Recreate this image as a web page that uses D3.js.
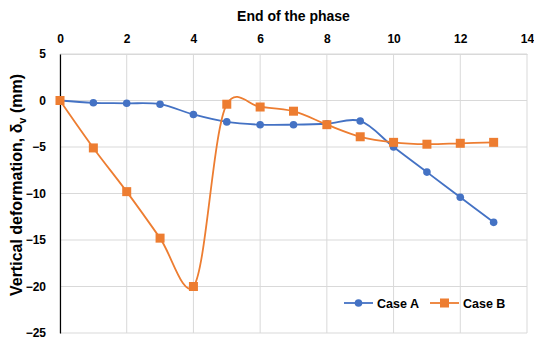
<!DOCTYPE html>
<html>
<head>
<meta charset="utf-8">
<script src="https://cdn.jsdelivr.net/npm/d3@7"></script>
<style>
  body { margin: 0; background: #fff; }
  text { font-family: "Liberation Sans", Arial, sans-serif; font-weight: bold; fill: #000; }
</style>
</head>
<body>
<svg width="534" height="341"></svg>
<script>
// phase index and deformations
const phases = [0, 1, 2, 3, 4, 5, 6, 7, 8, 9, 10, 11, 12, 13];
const caseA = [0, -0.25, -0.3, -0.4, -1.5, -2.3, -2.6, -2.6, -2.5, -2.2, -5.0, -7.7, -10.4, -13.1];
const caseB = [0, -5.1, -9.8, -14.8, -20.0, -0.4, -0.7, -1.15, -2.6, -3.9, -4.5, -4.7, -4.6, -4.5];
const xTicks = [0, 2, 4, 6, 8, 10, 12, 14];
const yTicks = [5, 0, -5, -10, -15, -20, -25];

const BLUE = "#4472C4", ORANGE = "#ED7D31";

const svg = d3.select("svg");
const x = d3.scaleLinear().domain([0, 14]).range([60, 527]);
const y = d3.scaleLinear().domain([-25, 5]).range([333, 54]);

// grid
const grid = svg.append("g");
grid.selectAll(".vg").data(xTicks).enter().append("line")
  .attr("x1", d => x(d)).attr("x2", d => x(d))
  .attr("y1", y(5)).attr("y2", y(-25))
  .attr("stroke", "#d9d9d9").attr("stroke-width", 1);
grid.selectAll(".hg").data(yTicks).enter().append("line")
  .attr("x1", x(0)).attr("x2", x(14))
  .attr("y1", d => y(d)).attr("y2", d => y(d))
  .attr("stroke", "#d9d9d9").attr("stroke-width", 1);

// axes
const xAxis = svg.append("g")
  .attr("transform", `translate(0,${y(5)})`)
  .call(d3.axisTop(x).tickValues(xTicks).tickSize(0).tickPadding(11));
xAxis.select(".domain").attr("stroke", "#d9d9d9");
xAxis.selectAll("text").style("font-size", "12px").style("font-weight", "bold")
  .style("font-family", "Liberation Sans, Arial, sans-serif").attr("fill", "#000");

const yAxis = svg.append("g")
  .attr("transform", `translate(${x(0)},0)`)
  .call(d3.axisLeft(y).tickValues(yTicks).tickSize(0).tickPadding(14));
yAxis.select(".domain").attr("stroke", "#000").attr("stroke-width", 1.2);
yAxis.selectAll("text").style("font-size", "12px").style("font-weight", "bold")
  .style("font-family", "Liberation Sans, Arial, sans-serif").attr("fill", "#000");

// titles
svg.append("text").attr("x", (x(0) + x(14)) / 2).attr("y", 21)
  .attr("text-anchor", "middle").style("font-size", "14px")
  .text("End of the phase");

const yt = svg.append("text")
  .attr("transform", `translate(22,185) rotate(-90)`)
  .attr("text-anchor", "middle").style("font-size", "16px");
yt.append("tspan").text("Vertical deformation, δ");
yt.append("tspan").attr("dy", 4).style("font-size", "11px").text("v");
yt.append("tspan").attr("dy", -4).text(" (mm)");

// series
const series = [
  { name: "Case A", values: caseA, color: BLUE, marker: "circle" },
  { name: "Case B", values: caseB, color: ORANGE, marker: "square" }
];

const line = d3.line()
  .x((d, i) => x(phases[i]))
  .y(d => y(d))
  .curve(d3.curveCatmullRom.alpha(0.2));

series.forEach(s => {
  svg.append("path").datum(s.values)
    .attr("d", line).attr("fill", "none")
    .attr("stroke", s.color).attr("stroke-width", 1.8);
  const g = svg.append("g");
  if (s.marker === "circle") {
    g.selectAll("circle").data(s.values).enter().append("circle")
      .attr("cx", (d, i) => x(phases[i])).attr("cy", d => y(d))
      .attr("r", 3.8).attr("fill", s.color);
  } else {
    g.selectAll("rect").data(s.values).enter().append("rect")
      .attr("x", (d, i) => x(phases[i]) - 4.5).attr("y", d => y(d) - 4.5)
      .attr("width", 9).attr("height", 9).attr("fill", s.color);
  }
});

// legend
const legendY = 303;
const lg = svg.append("g");
const legendItems = [
  { s: series[0], x0: 344 },
  { s: series[1], x0: 430 }
];
legendItems.forEach(({ s, x0 }) => {
  lg.append("line").attr("x1", x0).attr("x2", x0 + 29)
    .attr("y1", legendY).attr("y2", legendY)
    .attr("stroke", s.color).attr("stroke-width", 1.8);
  if (s.marker === "circle") {
    lg.append("circle").attr("cx", x0 + 14.5).attr("cy", legendY).attr("r", 3.8).attr("fill", s.color);
  } else {
    lg.append("rect").attr("x", x0 + 10).attr("y", legendY - 4.5)
      .attr("width", 9).attr("height", 9).attr("fill", s.color);
  }
  lg.append("text").attr("x", x0 + 33).attr("y", legendY + 4.5)
    .style("font-size", "12.5px").text(s.name);
});
</script>
</body>
</html>
